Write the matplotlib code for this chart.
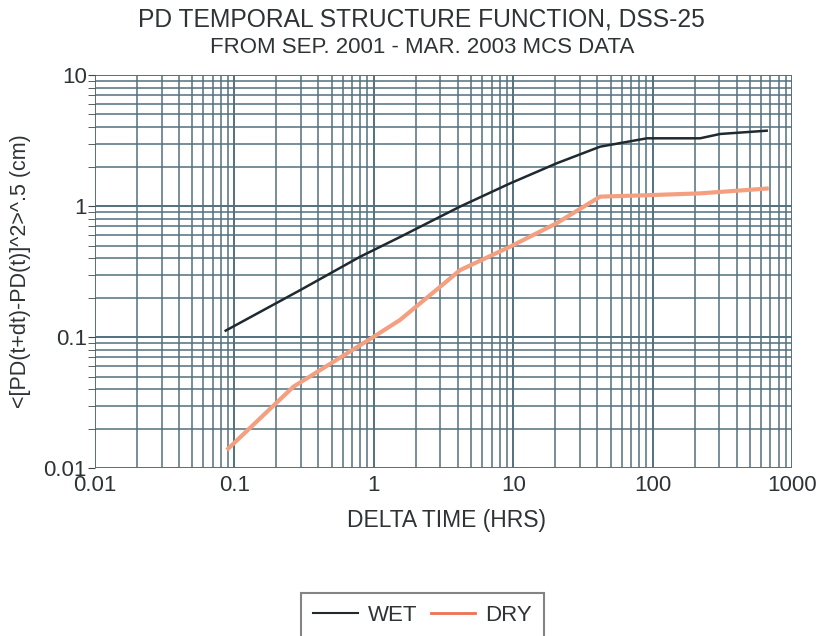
import matplotlib
matplotlib.use("Agg")
import matplotlib.pyplot as plt
from matplotlib.ticker import LogLocator, FixedLocator, FixedFormatter, NullFormatter

plt.rcParams['font.family'] = ['Liberation Sans', 'DejaVu Sans']

wet_x = [0.0866, 0.296, 0.796, 1.54, 2.99, 4.15, 9.5, 20.5, 42, 91, 219, 305, 658]
wet_y = [0.112, 0.228, 0.41, 0.58, 0.83, 0.99, 1.49, 2.12, 2.84, 3.29, 3.29, 3.55, 3.76]

dry_x = [0.0904, 0.265, 0.99, 1.54, 2.99, 4.15, 9.5, 20.5, 42, 91, 219, 447, 658]
dry_y = [0.0141, 0.0418, 0.10, 0.135, 0.242, 0.324, 0.49, 0.74, 1.18, 1.21, 1.25, 1.32, 1.36]

x_ticks = [0.01, 0.1, 1, 10, 100, 1000]
x_labels = ['0.01', '0.1', '1', '10', '100', '1000']
y_ticks = [0.01, 0.1, 1, 10]
y_labels = ['0.01', '0.1', '1', '10']

txt = '#2e3336'
fig = plt.figure(figsize=(8.21, 6.36), dpi=100)
ax = fig.add_axes([0.1157, 0.264, 0.849, 0.618])
ax.set_xscale('log')
ax.set_yscale('log')
ax.set_xlim(0.01, 1000)
ax.set_ylim(0.01, 10)

gc = '#52707e'
ax.grid(True, which='major', color=gc, lw=1.4)
ax.grid(True, which='minor', color=gc, lw=1.1)
ax.xaxis.set_major_locator(FixedLocator(x_ticks))
ax.xaxis.set_major_formatter(FixedFormatter(x_labels))
ax.yaxis.set_major_locator(FixedLocator(y_ticks))
ax.yaxis.set_major_formatter(FixedFormatter(y_labels))
ax.xaxis.set_minor_locator(LogLocator(base=10, subs=range(2, 10)))
ax.yaxis.set_minor_locator(LogLocator(base=10, subs=range(2, 10)))
ax.xaxis.set_minor_formatter(NullFormatter())
ax.yaxis.set_minor_formatter(NullFormatter())
ax.tick_params(which='both', direction='out', length=5, color='#444444', labelsize=16, pad=1,
               labelcolor=txt)
ax.tick_params(axis='x', which='both', length=0, pad=5)
for s in ax.spines.values():
    s.set_visible(False)

ax.plot(wet_x, wet_y, color='#1e2a30', lw=1.8, label='WET')
ax.plot(dry_x, dry_y, color='#f4a080', lw=3.0, label='DRY')

fig.text(446 / 821, 1 - 520 / 636, 'DELTA TIME (HRS)', ha='center', va='center',
         fontsize=16.5, color=txt)
fig.text(21 / 821, 1 - 271 / 636, '<[PD(t+dt)-PD(t)]^2>^.5 (cm)', ha='center', va='center',
         rotation=90, fontsize=15.5, color=txt)

fig.text(0.5134, 0.9686, 'PD TEMPORAL STRUCTURE FUNCTION, DSS-25', ha='center', va='center',
         fontsize=17.7, color=txt)
fig.text(0.5146, 0.926, 'FROM SEP. 2001 - MAR. 2003 MCS DATA', ha='center', va='center',
         fontsize=16, color=txt)

leg = fig.legend(loc='upper center', bbox_to_anchor=(0.5146, 1 - 593 / 636), ncol=2, frameon=True,
                 fontsize=16, fancybox=False, edgecolor='#666666', handlelength=2.0,
                 handletextpad=0.45, columnspacing=0.6, borderpad=0.55, borderaxespad=0)
leg.get_frame().set_linewidth(1.5)
for t in leg.get_texts():
    t.set_color(txt)
leg.get_lines()[0].set_linewidth(1.5)
leg.get_lines()[1].set_color('#f07050')
leg.get_lines()[1].set_linewidth(2.0)

fig.savefig('out.png', dpi=100)
